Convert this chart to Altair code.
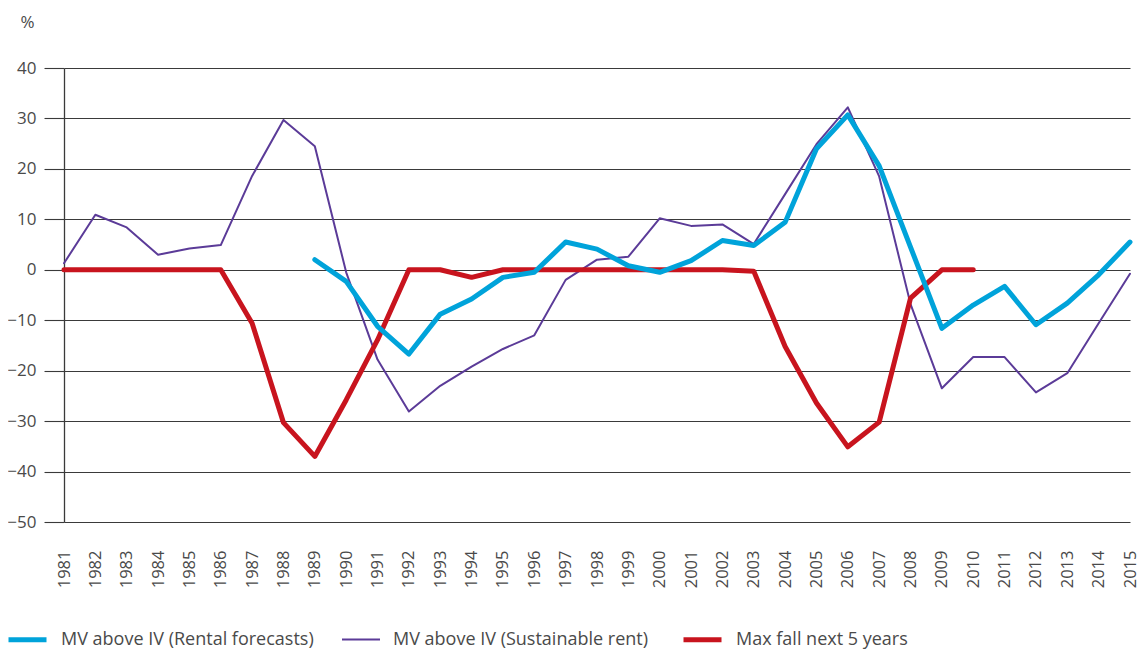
import altair as alt
import pandas as pd

# ---- data ----
rental_years = list(range(1989, 2016))
rental_forecasts = [2.0, -2.3, -11.2, -16.7, -8.8, -5.8, -1.5, -0.5, 5.5, 4.1,
                    0.8, -0.5, 1.8, 5.8, 4.8, 9.4, 24.0, 30.7, 20.6, 4.5,
                    -11.6, -7.0, -3.3, -10.9, -6.6, -1.0, 5.5]

sustainable_years = list(range(1981, 2016))
sustainable_rent = [1.3, 10.9, 8.4, 3.0, 4.2, 4.9, 18.6, 29.7, 24.5, -0.5,
                    -17.8, -28.1, -23.0, -19.2, -15.7, -13.0, -2.0, 2.0, 2.6, 10.2,
                    8.7, 9.0, 5.1, 15.0, 24.9, 32.2, 18.5, -6.8, -23.5, -17.3,
                    -17.3, -24.3, -20.5, -10.6, -0.8]

maxfall_years = list(range(1981, 2011))
max_fall = [0, 0, 0, 0, 0, 0, -10.6, -30.3, -37.0, -25.8,
            -13.9, 0, 0, -1.5, 0, 0, 0, 0, 0, 0,
            0, 0, -0.3, -15.2, -26.4, -35.1, -30.2, -5.6, 0, 0]

series_names = ["MV above IV (Rental forecasts)",
                "MV above IV (Sustainable rent)",
                "Max fall next 5 years"]
series_colors = ["#00a3da", "#5b3b98", "#c8141e"]
series_widths = [5, 2, 5]

x_ticks = list(range(1981, 2016))
y_ticks = list(range(-50, 41, 10))

rows = []
for yr, v in zip(rental_years, rental_forecasts):
    rows.append({"year": yr, "value": v, "series": series_names[0]})
for yr, v in zip(sustainable_years, sustainable_rent):
    rows.append({"year": yr, "value": v, "series": series_names[1]})
for yr, v in zip(maxfall_years, max_fall):
    rows.append({"year": yr, "value": v, "series": series_names[2]})
df = pd.DataFrame(rows)

FONT = "Open Sans"
TXT = "#4a4a4a"
GRID = "#3a3a3a"
WEIGHT = 400

legend = alt.Legend(orient="none", legendX=-58, legendY=550, direction="horizontal",
                    title=None, symbolType="stroke", symbolSize=1444,
                    labelFontSize=18, labelFont=FONT, labelColor=TXT,
                    labelFontWeight=WEIGHT, labelOffset=12, columnPadding=24,
                    labelLimit=500)

x_enc = alt.X("year:Q",
              scale=alt.Scale(domain=[1981, 2015], nice=False, zero=False),
              axis=alt.Axis(values=x_ticks, format="d", labelAngle=270,
                            grid=False, domain=False, ticks=False, tickSize=0,
                            labelPadding=28, labelFontSize=16.5, labelFont=FONT,
                            labelColor=TXT, labelFontWeight=WEIGHT, title=None,
                            labelOverlap=False, labelFlush=False))
y_enc = alt.Y("value:Q",
              scale=alt.Scale(domain=[-50, 40], nice=False),
              axis=alt.Axis(values=y_ticks, grid=True, gridColor=GRID, gridWidth=1.1,
                            gridOpacity=1, domain=True, domainColor=GRID, domainWidth=1.3,
                            ticks=True, tickSize=20, tickColor=GRID, tickWidth=1.1,
                            labelPadding=8, labelFontSize=17, labelFont=FONT,
                            labelColor=TXT, labelFontWeight=WEIGHT,
                            title="%", titleAngle=0, titleX=-37, titleY=-46,
                            titleAlign="center", titleBaseline="middle",
                            titleFontSize=17, titleFont=FONT, titleColor=TXT,
                            titleFontWeight=WEIGHT))
color_enc = alt.Color("series:N",
                      scale=alt.Scale(domain=series_names, range=series_colors),
                      legend=legend)
width_enc = alt.StrokeWidth("series:N",
                            scale=alt.Scale(type="ordinal", domain=series_names,
                                            range=series_widths),
                            legend=legend)

base = alt.Chart(df).mark_line(strokeCap="round", strokeJoin="round").encode(
    x=x_enc, y=y_enc, color=color_enc, strokeWidth=width_enc)

layers = [base.transform_filter(alt.datum.series == series_names[i]) for i in (1, 2, 0)]

chart = alt.layer(*layers).properties(
    width=1066, height=454,
    padding={"left": 56, "top": 60, "right": 9, "bottom": 130},
    autosize=alt.AutoSizeParams(type="none"),
).configure_view(stroke=None)

chart.save("out.html", embed_options={"renderer": "svg", "actions": False})
